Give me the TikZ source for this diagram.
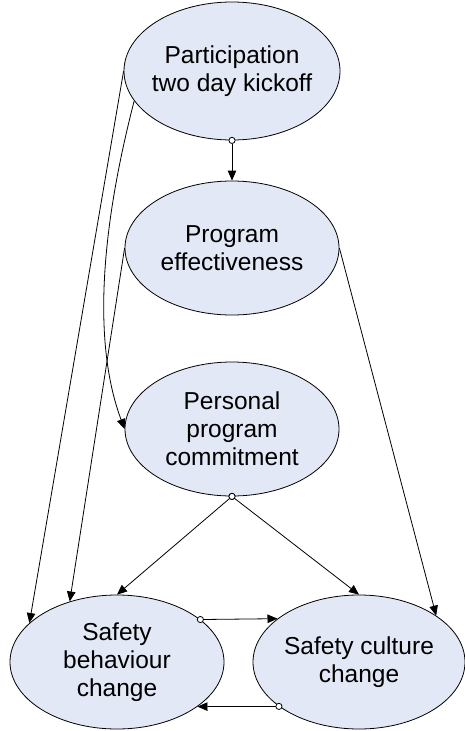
\documentclass[tikz,border=0pt]{standalone}
\usepackage{fontspec}
\setmainfont{Liberation Sans}
\usepackage{tikz}
\usetikzlibrary{shapes,arrows.meta,calc}
\definecolor{bubble}{RGB}{226,232,245}
\begin{document}
\begin{tikzpicture}[x=1pt,y=-1pt,
    factor/.style={ellipse,draw,line width=0.8pt,fill=bubble,minimum width=214pt,minimum height=134pt,inner xsep=-10pt,inner ysep=0pt,align=center,font=\fontsize{24.5}{28}\selectfont},
    link/.style={line width=0.8pt,-{Triangle[length=10pt,width=8.5pt]}},
    olink/.style={link,{Circle[length=7pt,fill=white]}-{Triangle[length=10pt,width=8.5pt]},shorten <=-3.5pt}]
    \useasboundingbox (0,0) rectangle (465,731);
    \node[factor,minimum width=216pt,minimum height=138pt] (kick) at (232,71) {Participation\\two day kickoff};
    \node[factor] (eff) at (232,248) {Program\\effectiveness};
    \node[factor] (commit) at (232,429) {Personal\\program\\commitment};
    \node[factor] (behav) at (117,662) {Safety\\behaviour\\change};
    \node[factor,minimum width=212pt] (cult) at (359,662) {Safety culture\\change};
    \draw[olink] (kick.south) -- (eff.north);
    \draw[link] (kick.west) -- (behav.156);
    \draw[link] (kick.197) .. controls +(-40,155) and +(-27,-72) .. (commit.west);
    \draw[link] (eff.west) -- (behav.128);
    \draw[link] (eff.east) -- (cult.31);
    \draw[olink] (commit.south) -- (behav.north);
    \draw[olink] (commit.south) -- (cult.north);
    \draw[olink] (behav.27) -- (cult.152);
    \draw[olink] (cult.209) -- (behav.-29);
\end{tikzpicture}
\end{document}
